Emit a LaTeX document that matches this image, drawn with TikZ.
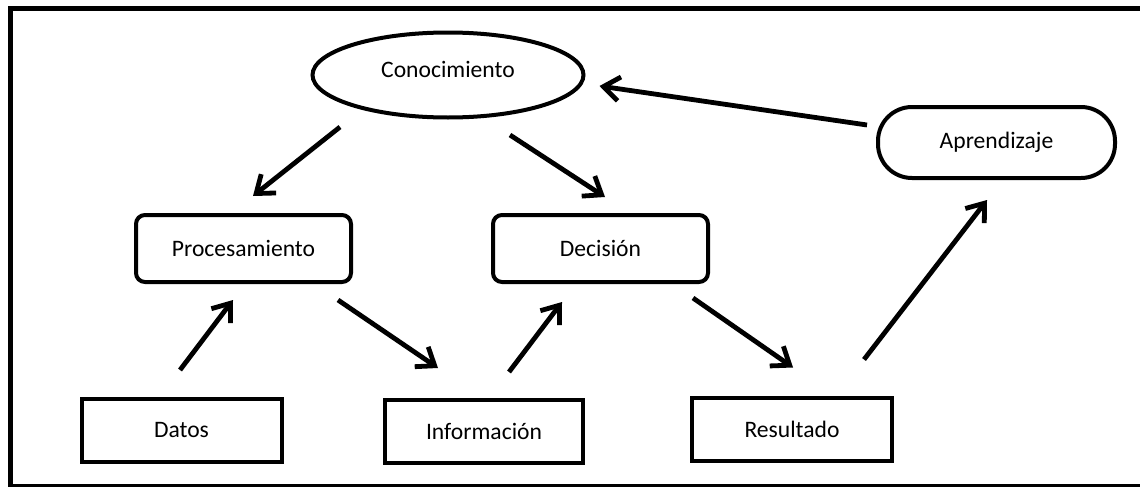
\documentclass[tikz,border=0pt]{standalone}
\usepackage{fontspec}
\setmainfont{Carlito}
\usetikzlibrary{shapes.geometric,arrows.meta}

\begin{document}
\begin{tikzpicture}[x=0.5pt,y=-0.5pt,
	every node/.style={font=\fontsize{11.8}{14}\selectfont,inner sep=0pt,outer sep=0pt},
	caja/.style={draw,line width=2pt,minimum width=100pt,minimum height=31.5pt},
	cajaredonda/.style={draw,line width=2pt,rounded corners=4.5pt,minimum width=107.5pt,minimum height=33.5pt},
	elipse/.style={draw,ellipse,line width=2pt,minimum width=135.5pt,minimum height=42.5pt},
	flecha/.style={line width=2.4pt,-{Straight Barb[length=8pt,width=12pt]}}]
			\useasboundingbox (0,0) rectangle (1140,487);
			\clip (0,0) rectangle (1140,487);
			\draw[line width=2.7pt] (10.5,8.5) rectangle (1160,487);
			\node[elipse] (con) at (448,75) {\raisebox{6pt}{Conocimiento}};
			\node[draw,line width=2pt,rounded corners=17pt,minimum width=118.5pt,minimum height=35.5pt] (apr) at (996.5,142.5) {Aprendizaje};
			\node[cajaredonda] (proc) at (243.5,248.5) {Procesamiento};
			\node[cajaredonda] (dec) at (600.5,248.5) {Decisión};
			\node[caja] (dat) at (181.5,430.5) {Datos};
			\node[caja,minimum width=99pt] (inf) at (484,431.5) {Información};
			\node[caja] (res) at (792,429) {Resultado};
			%Pfeile schweben frei zwischen den Kaesten
			\draw[flecha] ([shift={(-108,9.5)}]con.south) -- ([shift={(9.5,-19)}]proc.north);
			\draw[flecha] ([shift={(62,17.5)}]con.south) -- ([shift={(4.5,-18)}]dec.north);
			\draw[flecha] ([shift={(-11,-17.5)}]apr.west) -- ([shift={(16,11)}]con.east);
			\draw[flecha] ([shift={(-1.5,-29)}]dat.north) -- ([shift={(-10.5,18)}]proc.south);
			\draw[flecha] ([shift={(94.5,18)}]proc.south) -- ([shift={(-46,-32)}]inf.north);
			\draw[flecha] ([shift={(25,-28)}]inf.north) -- ([shift={(-38.5,20)}]dec.south);
			\draw[flecha] ([shift={(92.5,16)}]dec.south) -- ([shift={(1,-30)}]res.north);
			\draw[flecha] ([shift={(72,-38)}]res.north) -- ([shift={(-9.5,22)}]apr.south);
		\end{tikzpicture}
\end{document}
